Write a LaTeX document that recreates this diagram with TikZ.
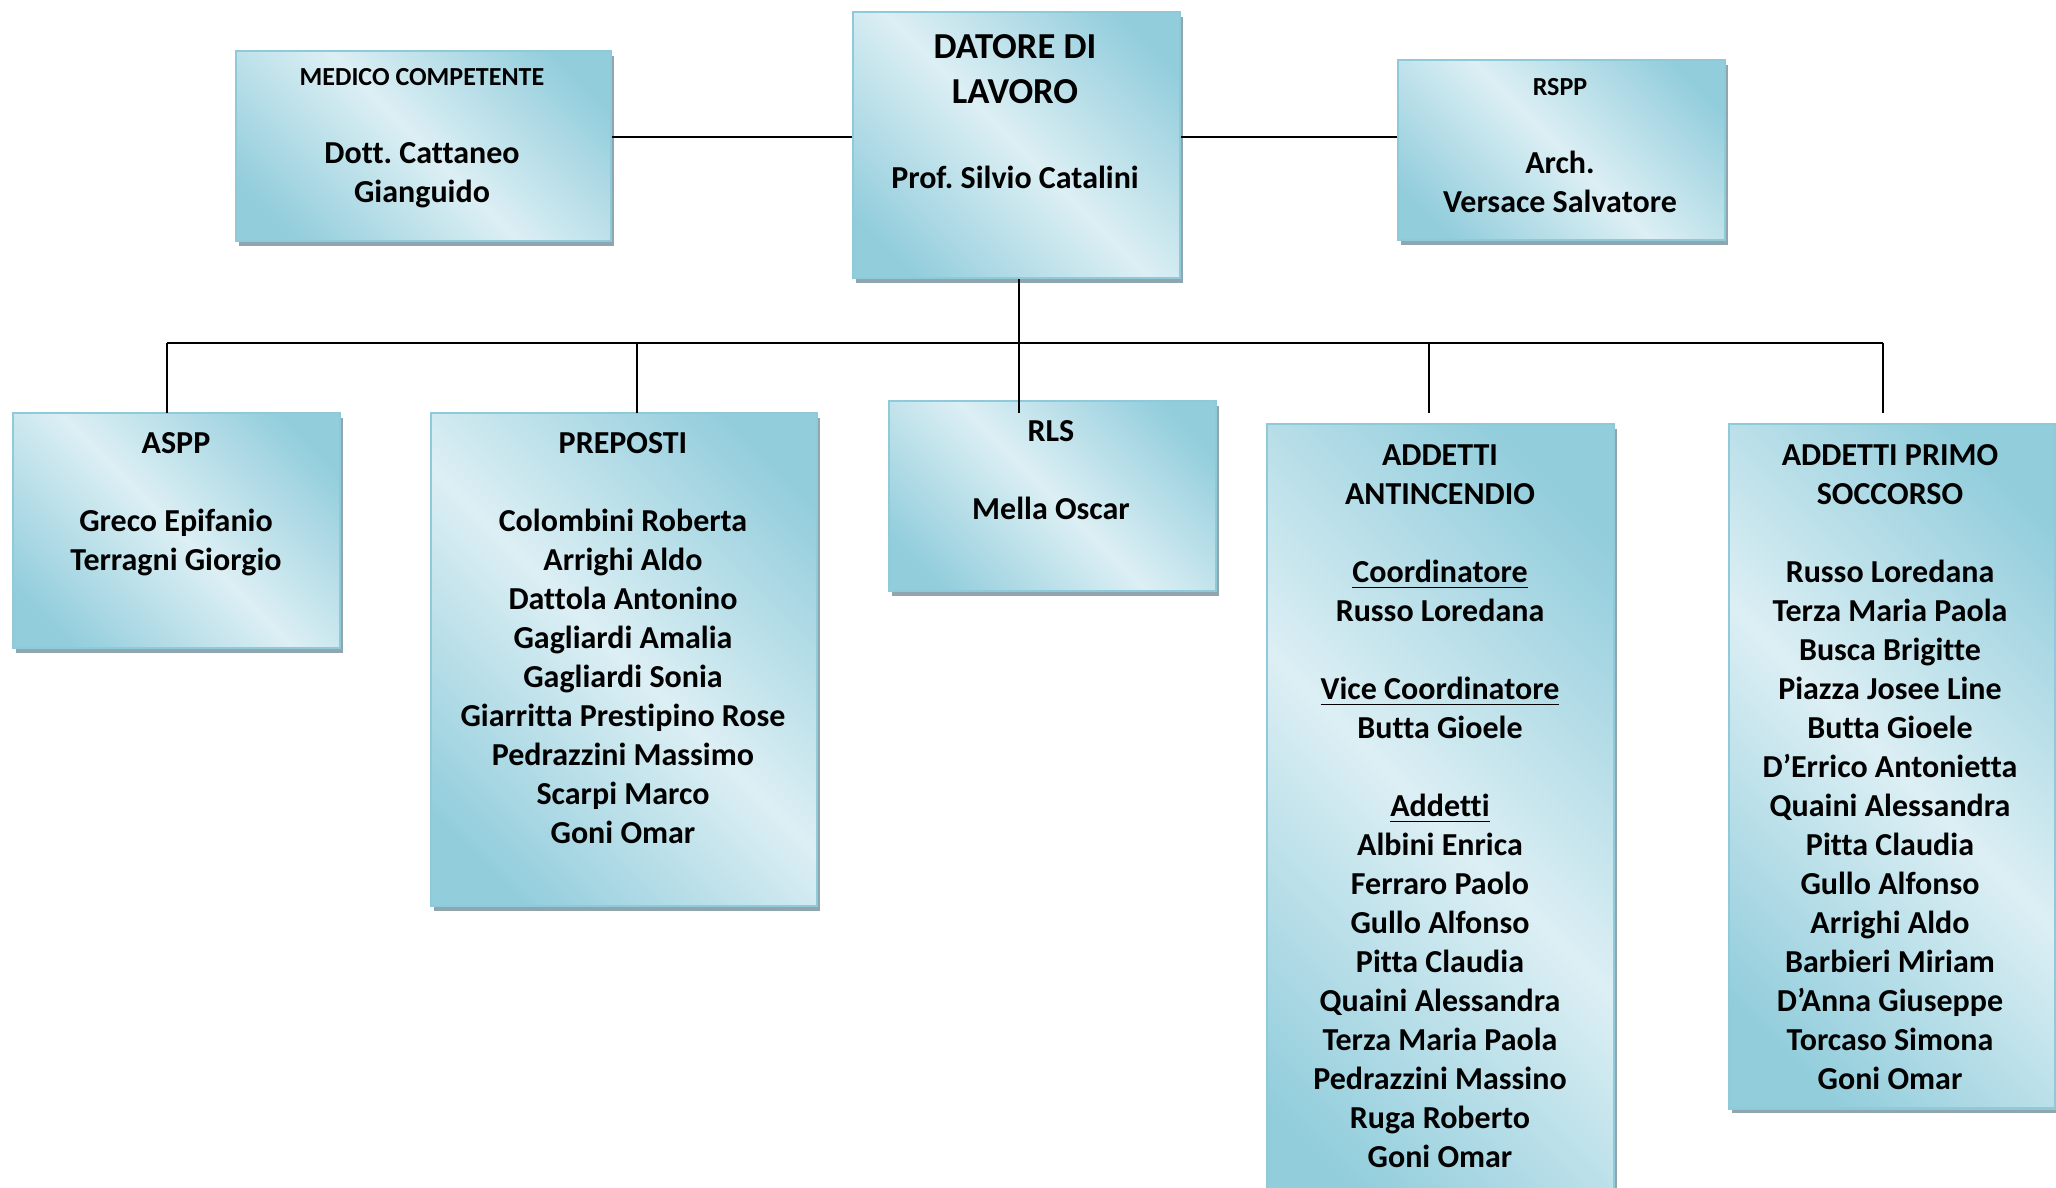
\documentclass[tikz,border=0pt]{standalone}
\usepackage{fontspec}
\setmainfont{Carlito}[Ligatures=NoCommon]
\usepackage{tikz}
\usetikzlibrary{shadows,positioning}
\frenchspacing

\definecolor{scuro}{HTML}{92CDDC}
\definecolor{chiaro}{HTML}{DCEFF4}
\definecolor{bordo}{HTML}{8FCADA}
\definecolor{ombra}{HTML}{8FA6AE}
\pgfdeclarehorizontalshading{fascia}{100bp}{color(0bp)=(scuro); color(22bp)=(scuro); color(50bp)=(chiaro); color(78bp)=(scuro); color(100bp)=(scuro)}

\tikzset{
  ruolo/.style={rectangle, draw=bordo, line width=0.6pt, shading=fascia, shading angle=45,
    drop shadow={shadow xshift=0.8pt, shadow yshift=-1.3pt, fill=ombra, opacity=1},
    anchor=north west, inner sep=0pt},
  nomi/.style={font=\fontsize{9.1}{11.1}\selectfont\bfseries, align=center, inner sep=0pt},
  grande/.style={font=\fontsize{10.4}{12.8}\selectfont\bfseries, align=center, inner sep=0pt},
  piccolo/.style={font=\fontsize{7.4}{9}\selectfont\bfseries, inner sep=0pt, anchor=base},
  linea/.style={line width=0.6pt, black}
}

\begin{document}
\begin{tikzpicture}[x=0.01cm, y=-0.01cm]
  \useasboundingbox (0,0) rectangle (2056,1188);

  % riquadri
  \node[ruolo, minimum width=3.75cm, minimum height=1.90cm] (medico) at (235,50) {};
  \node[ruolo, minimum width=3.27cm, minimum height=2.66cm] (datore) at (852,11) {};
  \node[ruolo, minimum width=3.27cm, minimum height=1.80cm] (rspp) at (1397,59) {};
  \node[ruolo, minimum width=3.27cm, minimum height=2.35cm] (aspp) at (12,412) {};
  \node[ruolo, minimum width=3.86cm, minimum height=4.93cm] (preposti) at (430,412) {};
  \node[ruolo, minimum width=3.27cm, minimum height=1.90cm] (rls) at (888,400) {};
  \node[ruolo, minimum width=3.47cm, minimum height=8.00cm] (antinc) at (1266,423) {};
  \node[ruolo, minimum width=3.26cm, minimum height=6.84cm] (soccorso) at (1728,423) {};

  % testi
  \node[grande, anchor=north] (t-datore) at (1015,26.5) {\strut DATORE DI\\LAVORO};
  \node[nomi, anchor=base] (n-datore) at (1015,188.5) {Prof. Silvio Catalini};
  \node[piccolo] (t-medico) at (422,85.5) {MEDICO COMPETENTE};
  \node[nomi, anchor=north] (n-medico) at (422,135) {\strut Dott. Cattaneo\\Gianguido};
  \node[piccolo] (t-rspp) at (1560,95.5) {RSPP};
  \node[nomi, anchor=north] (n-rspp) at (1560,145) {\strut Arch.\\Versace Salvatore};
  \node[nomi, anchor=north] (n-aspp) at (176,425) {\strut ASPP\\~\\Greco Epifanio\\Terragni Giorgio};
  \node[nomi, anchor=north] (n-preposti) at (623,425) {\strut PREPOSTI\\~\\Colombini Roberta\\Arrighi Aldo\\Dattola Antonino\\Gagliardi Amalia\\Gagliardi Sonia\\Giarritta Prestipino Rose\\Pedrazzini Massimo\\Scarpi Marco\\Goni Omar};
  \node[nomi, anchor=north] (n-rls) at (1051,413) {\strut RLS\\~\\Mella Oscar};
  \node[nomi, anchor=north] (n-antinc) at (1440,437) {\strut ADDETTI\\ANTINCENDIO\\~\\\underline{Coordinatore}\\Russo Loredana\\~\\\underline{Vice Coordinatore}\\Butta Gioele\\~\\\underline{Addetti}\\Albini Enrica\\Ferraro Paolo\\Gullo Alfonso\\Pitta Claudia\\Quaini Alessandra\\Terza Maria Paola\\Pedrazzini Massino\\Ruga Roberto\\Goni Omar};
  \node[nomi, anchor=north] (n-soccorso) at (1890,437) {\strut ADDETTI PRIMO\\SOCCORSO\\~\\Russo Loredana\\Terza Maria Paola\\Busca Brigitte\\Piazza Josee Line\\Butta Gioele\\D’Errico Antonietta\\Quaini Alessandra\\Pitta Claudia\\Gullo Alfonso\\Arrighi Aldo\\Barbieri Miriam\\D’Anna Giuseppe\\Torcaso Simona\\Goni Omar};

  % collegamenti
  \coordinate (liv1) at (0,137);
  \coordinate (bus) at (0,343);
  \coordinate (r1) at (167,413);
  \coordinate (r2) at (637,413);
  \coordinate (r3) at (1019,413);
  \coordinate (r4) at (1429,413);
  \coordinate (r5) at (1883,413);
  \draw[linea] (medico.east |- liv1) -- (datore.west |- liv1);
  \draw[linea] (datore.east |- liv1) -- (rspp.west |- liv1);
  \draw[linea] (r1 |- bus) -- (r5 |- bus);
  \foreach \n in {1,2,4,5}
    \draw[linea] (r\n |- bus) -- (r\n);
  \draw[linea] (r3 |- datore.south) -- (r3);
\end{tikzpicture}
\end{document}
